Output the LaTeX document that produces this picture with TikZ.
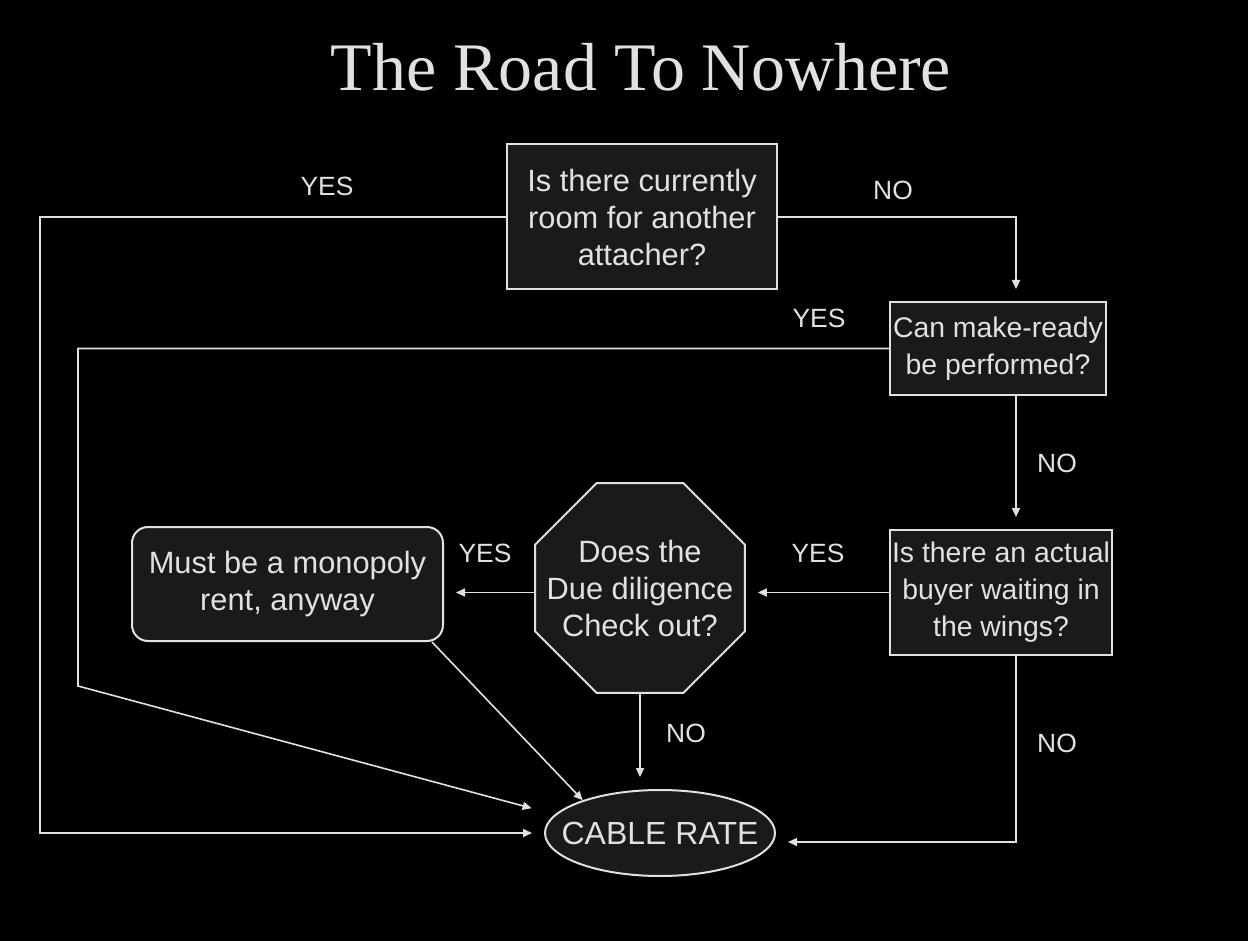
\documentclass[tikz,border=0pt]{standalone}
\usepackage{fontspec}
\setmainfont{Liberation Sans}
\newfontfamily\titlefont{Liberation Serif}
\usetikzlibrary{shapes.geometric,arrows.meta,calc}
\definecolor{ln}{RGB}{225,225,225}
\definecolor{bx}{RGB}{26,26,26}
\begin{document}
\begin{tikzpicture}[x=0.5pt,y=-0.5pt,
  box/.style={draw=ln,line width=1pt,fill=bx,text=ln,align=center,font=\fontsize{15.4}{18.5}\selectfont,inner sep=0pt},
  smallbox/.style={box,font=\fontsize{14.2}{18.5}\selectfont},
  lbl/.style={text=ln,font=\fontsize{13.2}{16}\selectfont},
  arr/.style={draw=ln,line width=0.8pt,-{Triangle[length=4.5pt,width=4pt]},shorten >=6pt}]
\fill[black] (0,0) rectangle (1248,941);
\useasboundingbox (0,0) rectangle (1248,941);

\node[text=ln,font=\titlefont\fontsize{34}{40}\selectfont] (title) at (641,67) {The Road To Nowhere};

\node[box,minimum width=135pt,minimum height=72.5pt] (b1) at (642,217) {Is there currently\\room for another\\attacher?};
\node[smallbox,minimum width=108pt,minimum height=46.5pt] (b2) at (998,348.5) {Can make-ready\\be performed?};
\node[smallbox,minimum width=111pt,minimum height=62.5pt] (b3) at (1001,592.5) {Is there an actual\\buyer waiting in\\the wings?};
\node[box,regular polygon,regular polygon sides=8,inner sep=-25pt,minimum size=113.5pt] (oct) at (640,588) {Does the\\Due diligence\\Check out?};
\node[box,rounded corners=8pt,minimum width=155.5pt,minimum height=57pt] (mr) at (287.5,584) {Must be a monopoly\\rent, anyway};
\node[box,ellipse,inner xsep=-10pt,minimum width=115pt,minimum height=43pt,font=\fontsize{16}{18.5}\selectfont] (cr) at (660,833) {CABLE RATE};

\coordinate (xl1) at (40,0);
\coordinate (xl2) at (78,0);
\coordinate (xr) at (1016,0);
\coordinate (yb) at (0,842);
\coordinate (yk) at (0,686);

\draw[arr] (b1.west) -- (b1.west -| xl1) |- (cr.west);
\draw[arr] (b1.east) -| (b2.north -| xr);
\draw[arr,shorten >=12pt] (b2.west) -- (b2.west -| xl2) -- (xl2 |- yk) -- (cr.170);
\draw[arr] (b2.south -| xr) -- (b3.north -| xr);
\draw[arr] (b3.west) -- (b3.west -| oct.east);
\draw[arr] (b3.west -| oct.west) -- (b3.west -| mr.east);
\draw[arr] (oct.south) -- (oct.south |- cr.north);
\draw[arr,shorten >=0pt] ($(mr.south east)+(-12,0)$) -- (cr.157);
\draw[arr] (b3.south -| xr) -- (xr |- yb) -- (cr.east |- yb);

\node[lbl] (l1) at (327,186) {YES};
\node[lbl] (l2) at (893,190) {NO};
\node[lbl] (l3) at (819,318) {YES};
\node[lbl] (l4) at (1057,463) {NO};
\node[lbl] (l5) at (818,553) {YES};
\node[lbl] (l6) at (485,553) {YES};
\node[lbl] (l7) at (686,733) {NO};
\node[lbl] (l8) at (1057,743) {NO};
\end{tikzpicture}
\end{document}
